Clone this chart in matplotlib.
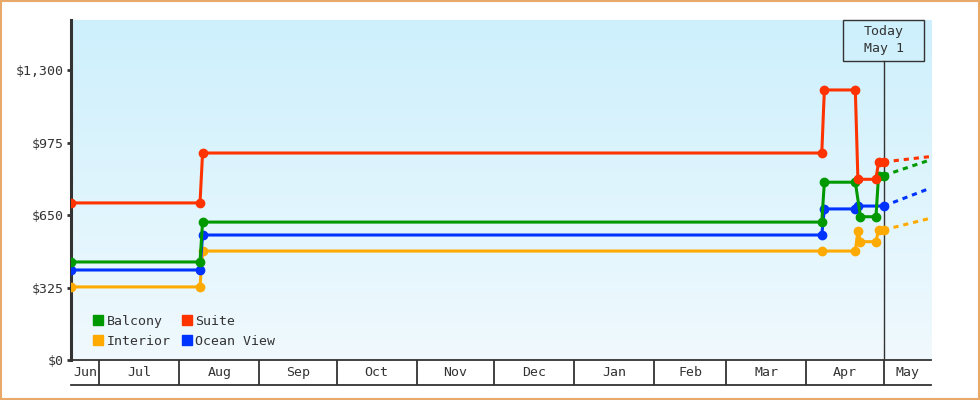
import matplotlib
matplotlib.use('Agg')
import numpy as np
import pandas as pd
import matplotlib.pyplot as plt
import matplotlib.dates as mdates
from matplotlib.lines import Line2D
from matplotlib.patches import Rectangle

# ---- data ----
balcony_dates = ['2017-06-20', '2017-08-09', '2017-08-10', '2018-04-07', '2018-04-08',
                 '2018-04-20', '2018-04-22', '2018-04-28', '2018-04-29', '2018-05-01']
balcony_prices = [440, 440, 619, 619, 798, 798, 643, 643, 828, 828]

suite_dates = ['2017-06-20', '2017-08-09', '2017-08-10', '2018-04-07', '2018-04-08',
               '2018-04-20', '2018-04-21', '2018-04-28', '2018-04-29', '2018-05-01']
suite_prices = [705, 705, 929, 929, 1212, 1212, 811, 811, 889, 889]

ocean_dates = ['2017-06-20', '2017-08-09', '2017-08-10', '2018-04-07', '2018-04-08',
               '2018-04-20', '2018-04-21', '2018-05-01']
ocean_prices = [404, 404, 561, 561, 678, 678, 691, 691]

interior_dates = ['2017-06-20', '2017-08-09', '2017-08-10', '2018-04-07', '2018-04-20',
                  '2018-04-21', '2018-04-22', '2018-04-28', '2018-04-29', '2018-05-01']
interior_prices = [328, 328, 489, 489, 489, 579, 531, 531, 584, 584]

# projected price at the right edge
proj_date = '2018-05-19'
proj_prices = {'Balcony': 898, 'Suite': 913, 'Ocean View': 771, 'Interior': 636}

today = '2018-05-01'
y_ticks = [0, 325, 650, 975, 1300]

series = [
    ('Interior', interior_dates, interior_prices, '#ffaa00'),
    ('Ocean View', ocean_dates, ocean_prices, '#0033ff'),
    ('Balcony', balcony_dates, balcony_prices, '#009900'),
    ('Suite', suite_dates, suite_prices, '#ff3300'),
]

plt.rcParams['font.family'] = ['DejaVu Sans Mono', 'DejaVu Sans']
ink = '#333333'

fig = plt.figure(figsize=(9.8, 4.0), dpi=100)
L, R = 71 / 980, 931 / 980
ax = fig.add_axes([L, 40 / 400, R - L, 340 / 400])

x0 = mdates.date2num(pd.Timestamp('2017-06-20'))
x1 = mdates.date2num(pd.Timestamp('2018-05-19 08:00'))
ax.set_xlim(x0, x1)
ax.set_ylim(0, 1526)

# background gradient
grad = np.linspace(0, 1, 256).reshape(-1, 1)
cmap = matplotlib.colors.LinearSegmentedColormap.from_list('bg', ['#cdf0fc', '#f0f9fe'])
ax.imshow(grad, cmap=cmap, extent=[0, 1, 0, 1], transform=ax.transAxes,
          aspect='auto', zorder=0)

# today marker
t = mdates.date2num(pd.Timestamp(today))
tf = (t - x0) / (x1 - x0)
box_bottom = 1 - 40.5 / 340
half_w = 40.5 / 860
ax.axvline(t, ymin=0, ymax=box_bottom, color=ink, lw=1, zorder=1)
ax.add_patch(Rectangle((tf - half_w, box_bottom), 2 * half_w, 1 - box_bottom,
                       transform=ax.transAxes, fill=False, ec=ink, lw=1,
                       clip_on=False, zorder=5))
ax.text(tf, (1 + box_bottom) / 2, 'Today\nMay 1', transform=ax.transAxes,
        ha='center', va='center', fontsize=9.5, color=ink, linespacing=1.35, zorder=6)

for name, d, p, c in series:
    dn = mdates.date2num(pd.to_datetime(d))
    ax.plot(dn, p, color=c, lw=2.2, marker='o', ms=6, mec=c, zorder=3,
            solid_joinstyle='round')
    ax.plot([dn[-1], mdates.date2num(pd.Timestamp(proj_date))], [p[-1], proj_prices[name]],
            color=c, lw=2.2, dashes=(1.7, 1.6), zorder=3)

ax.set_yticks(y_ticks)
ax.set_yticklabels(['${:,}'.format(v) for v in y_ticks])
ax.set_xticks([])
ax.tick_params(axis='y', direction='out', length=3, width=2, color=ink,
               labelcolor=ink, labelsize=9.5, pad=2)
for s in ['top', 'right']:
    ax.spines[s].set_visible(False)
ax.spines['left'].set_linewidth(2.2)
ax.spines['left'].set_color(ink)
ax.spines['bottom'].set_linewidth(1.3)
ax.spines['bottom'].set_color(ink)

# legend
colors = {n: c for n, _, _, c in series}
order = ['Balcony', 'Interior', 'Suite', 'Ocean View']
handles = [Line2D([], [], ls='none', marker='s', ms=7.5, color=colors[n]) for n in order]
ax.legend(handles, order, ncol=2, loc='lower left', bbox_to_anchor=(0.012, 0.001),
          frameon=False, fontsize=9.5, handlelength=0.8, handletextpad=0.2,
          columnspacing=0.85, labelspacing=0.55, labelcolor=ink, borderaxespad=0.5)

# month band under the axis
axb = fig.add_axes([L, 15 / 400, R - L, 25 / 400], sharex=ax)
axb.set_ylim(0, 1)
axb.set_facecolor('none')
for s in ['top', 'left', 'right']:
    axb.spines[s].set_visible(False)
axb.spines['bottom'].set_color(ink)
axb.spines['bottom'].set_linewidth(1.3)
axb.tick_params(left=False, bottom=False, labelleft=False, labelbottom=False)
months = pd.date_range('2017-06-01', '2018-06-01', freq='MS')
for a, b in zip(months[:-1], months[1:]):
    a_n, b_n = mdates.date2num(a), mdates.date2num(b)
    if a_n > x0:
        axb.axvline(a_n, color=ink, lw=1.3)
    mid = (max(a_n, x0) + min(b_n, x1)) / 2
    axb.text(mid, 0.5, a.strftime('%b'), ha='center', va='center',
             fontsize=9.5, color=ink)
axb.set_xlim(x0, x1)

# orange frame around the figure
fig.patches.append(Rectangle((0.001, 0.002), 0.998, 0.996, transform=fig.transFigure,
                             fill=False, ec='#e9a96b', lw=1.5))

fig.savefig('out.png', dpi=100)
